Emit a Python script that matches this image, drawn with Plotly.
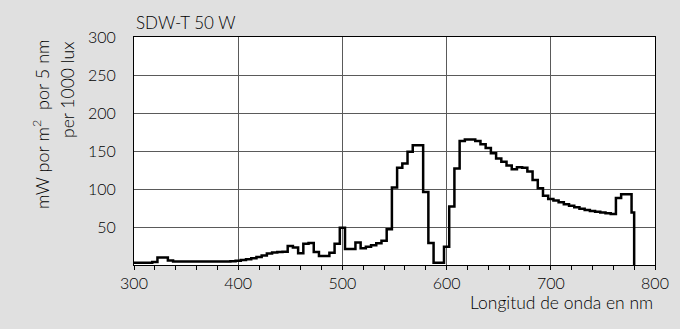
import plotly.graph_objects as go

# Wavelength grid (nm) and spectral values (mW per m² per 5 nm per 1000 lux)
wavelength_nm = list(range(300, 785, 5)) + [780]
spectral_power = [
    # 300-395
    3, 3, 3, 3, 4, 10, 10, 6, 4.5, 4.5, 4.5, 4.5, 4.5, 4.5, 4.5, 4.5, 4.5, 4.5, 4.5, 5,
    # 400-495
    5.7, 6.5, 7.5, 9, 10.5, 12.5, 15, 16.5, 17, 17.5, 25, 23, 15.5, 28, 29, 17, 12, 12, 16, 28,
    # 500-595
    49, 21, 21, 29.5, 22, 24, 26, 28.5, 32, 47, 102, 128, 133.5, 149, 157.5, 157.5, 96, 29, 3, 3,
    # 600-695
    24, 77, 127, 163, 165, 165, 163, 159, 154, 147, 140, 136, 131, 126, 128.5, 128, 123, 112, 101, 91,
    # 700-780
    87, 85, 82.5, 80, 78, 76, 74, 72.5, 71, 70, 69, 68, 67, 88, 93, 93, 69,
    # end of spectrum
    0,
]

x_tick_values = [300, 400, 500, 600, 700, 800]
y_tick_values = [50, 100, 150, 200, 250, 300]

title_text = "SDW-T 50 W"
y_title_line1 = "mW por m<sup>2</sup>  por 5 nm"
y_title_line2 = "per 1000 lux"
x_title_text = "Longitud de onda en nm"

FONT = "Lato, 'Open Sans', sans-serif"
BG = "#e0e0e0"
GRID = "#5a5a5a"
TXT = "#000000"

fig = go.Figure()
fig.add_trace(go.Scatter(
    x=wavelength_nm, y=spectral_power, mode="lines",
    line=dict(shape="hvh", color="black", width=2.5),
    hoverinfo="skip", showlegend=False,
))

fig.update_layout(
    width=680, height=329,
    margin=dict(l=134, r=25, t=37, b=64),
    paper_bgcolor=BG, plot_bgcolor="white",
    font=dict(family=FONT, size=16, color=TXT, weight=300),
    showlegend=False,
    annotations=[
        dict(text=title_text, xref="paper", yref="paper", x=0, y=1.0,
             xanchor="left", yanchor="bottom", yshift=2, showarrow=False,
             font=dict(family=FONT, size=17, color=TXT, weight=300)),
        dict(text=x_title_text, xref="paper", yref="paper", x=1, y=0,
             xanchor="right", yanchor="top", yshift=-25, showarrow=False,
             font=dict(family=FONT, size=17.5, color=TXT, weight=300)),
        dict(text=y_title_line1, xref="paper", yref="paper", x=0, y=1.0,
             xanchor="center", yanchor="top", xshift=-93, textangle=-90,
             showarrow=False, font=dict(family=FONT, size=18, color=TXT, weight=300)),
        dict(text=y_title_line2, xref="paper", yref="paper", x=0, y=1.0,
             xanchor="center", yanchor="top", xshift=-67, yshift=-3, textangle=-90,
             showarrow=False, font=dict(family=FONT, size=17.5, color=TXT, weight=300)),
    ],
)

fig.update_xaxes(
    range=[300, 800], tickvals=x_tick_values,
    showline=True, linecolor="black", linewidth=1, mirror=True,
    showgrid=True, gridcolor=GRID, gridwidth=1,
    ticks="outside", ticklen=4, tickcolor="black", tickwidth=1,
    minor=dict(dtick=20, ticks="outside", ticklen=4, tickcolor="black", showgrid=False),
    zeroline=False, tickfont=dict(size=16),
)
fig.update_yaxes(
    range=[0, 300], tickvals=y_tick_values,
    showline=True, linecolor="black", linewidth=1, mirror=True,
    showgrid=True, gridcolor=GRID, gridwidth=1,
    ticks="", ticklabelstandoff=14,
    zeroline=False, tickfont=dict(size=16),
)

fig.write_html(
    "out.html",
    config={"displayModeBar": False},
    post_script="document.body.style.margin='0';document.body.style.background='%s';" % BG,
)
